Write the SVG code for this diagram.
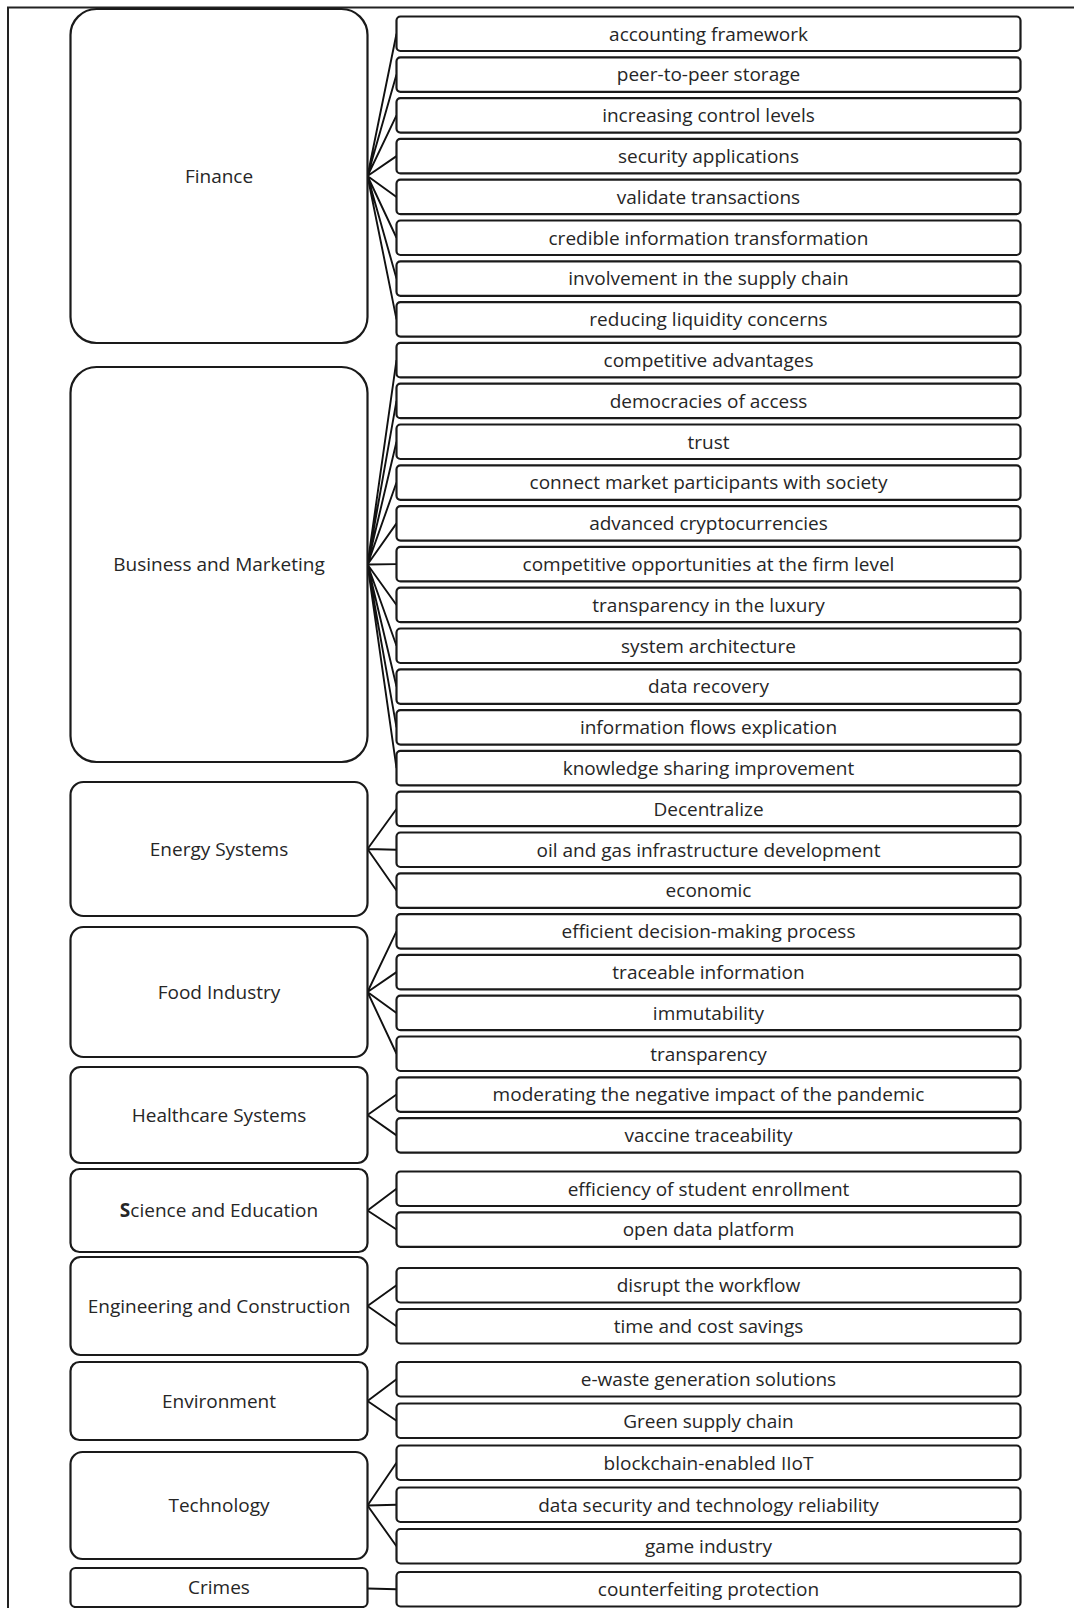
<svg xmlns="http://www.w3.org/2000/svg" width="1074" height="1608" viewBox="0 0 1074 1608">
<style>
.bg{fill:#ffffff}
.frame{fill:none;stroke:#222;stroke-width:2}
.cat{fill:#ffffff;stroke:#1a1a1a;stroke-width:2.2}
.item{fill:#ffffff;stroke:#1a1a1a;stroke-width:2.2}
.t{font-family:"Open Sans","Noto Sans","Liberation Sans",sans-serif;font-size:19px;fill:#262626;text-anchor:middle}
.c{fill:none;stroke:#111;stroke-width:1.9}
</style>
<rect class="bg" x="0" y="0" width="1074" height="1608"/>
<g id="frame">
<path class="frame" d="M8,1608 V7.5 H1074"/>
</g>
<g id="connectors">
<path class="c" d="M367.5,176 L396.5,33.75 M367.5,176 L396.5,74.55 M367.5,176 L396.5,115.35 M367.5,176 L396.5,156.15 M367.5,176 L396.5,196.95 M367.5,176 L396.5,237.75 M367.5,176 L396.5,278.55 M367.5,176 L396.5,319.35"/>
<path class="c" d="M367.5,564.5 L396.5,360.15 M367.5,564.5 L396.5,400.95 M367.5,564.5 L396.5,441.75 M367.5,564.5 L396.5,482.55 M367.5,564.5 L396.5,523.35 M367.5,564.5 L396.5,564.15 M367.5,564.5 L396.5,604.95 M367.5,564.5 L396.5,645.75 M367.5,564.5 L396.5,686.55 M367.5,564.5 L396.5,727.35 M367.5,564.5 L396.5,768.15"/>
<path class="c" d="M367.5,849 L396.5,808.95 M367.5,849 L396.5,849.75 M367.5,849 L396.5,890.55"/>
<path class="c" d="M367.5,992 L396.5,931.35 M367.5,992 L396.5,972.15 M367.5,992 L396.5,1012.95 M367.5,992 L396.5,1053.75"/>
<path class="c" d="M367.5,1115 L396.5,1094.55 M367.5,1115 L396.5,1135.35"/>
<path class="c" d="M367.5,1210.5 L396.5,1188.75 M367.5,1210.5 L396.5,1229.55"/>
<path class="c" d="M367.5,1306 L396.5,1285.25 M367.5,1306 L396.5,1326.25"/>
<path class="c" d="M367.5,1401 L396.5,1379.25 M367.5,1401 L396.5,1420.75"/>
<path class="c" d="M367.5,1505.5 L396.5,1462.75 M367.5,1505.5 L396.5,1504.75 M367.5,1505.5 L396.5,1546.25"/>
<path class="c" d="M367.5,1588.5 L396.5,1589.25"/>
</g>
<g id="cat-finance"><rect class="cat" x="70.5" y="9" width="297" height="334" rx="26"/><text class="t" x="219" y="182.8">Finance</text></g>
<g id="cat-business"><rect class="cat" x="70.5" y="367" width="297" height="395" rx="26"/><text class="t" x="219" y="571.3">Business and Marketing</text></g>
<g id="cat-energy"><rect class="cat" x="70.5" y="782" width="297" height="134" rx="13"/><text class="t" x="219" y="855.8">Energy Systems</text></g>
<g id="cat-food"><rect class="cat" x="70.5" y="927" width="297" height="130" rx="13"/><text class="t" x="219" y="998.8">Food Industry</text></g>
<g id="cat-healthcare"><rect class="cat" x="70.5" y="1067" width="297" height="96" rx="10"/><text class="t" x="219" y="1121.8">Healthcare Systems</text></g>
<g id="cat-science"><rect class="cat" x="70.5" y="1169" width="297" height="83" rx="9"/><text class="t" x="219" y="1217.3"><tspan font-weight="bold">S</tspan>cience and Education</text></g>
<g id="cat-engineering"><rect class="cat" x="70.5" y="1257" width="297" height="98" rx="10"/><text class="t" x="219" y="1312.8">Engineering and Construction</text></g>
<g id="cat-environment"><rect class="cat" x="70.5" y="1362" width="297" height="78" rx="9"/><text class="t" x="219" y="1407.8">Environment</text></g>
<g id="cat-technology"><rect class="cat" x="70.5" y="1452" width="297" height="107" rx="12"/><text class="t" x="219" y="1512.3">Technology</text></g>
<g id="cat-crimes"><rect class="cat" x="70.5" y="1568" width="297" height="39" rx="5"/><text class="t" x="219" y="1594.3">Crimes</text></g>
<g id="i01"><rect class="item" x="396.5" y="16.5" width="624" height="34.5" rx="4"/><text class="t" x="708.5" y="40.5">accounting framework</text></g>
<g id="i02"><rect class="item" x="396.5" y="57.3" width="624" height="34.5" rx="4"/><text class="t" x="708.5" y="81.3">peer-to-peer storage</text></g>
<g id="i03"><rect class="item" x="396.5" y="98.1" width="624" height="34.5" rx="4"/><text class="t" x="708.5" y="122.1">increasing control levels</text></g>
<g id="i04"><rect class="item" x="396.5" y="138.9" width="624" height="34.5" rx="4"/><text class="t" x="708.5" y="162.9">security applications</text></g>
<g id="i05"><rect class="item" x="396.5" y="179.7" width="624" height="34.5" rx="4"/><text class="t" x="708.5" y="203.7">validate transactions</text></g>
<g id="i06"><rect class="item" x="396.5" y="220.5" width="624" height="34.5" rx="4"/><text class="t" x="708.5" y="244.5">credible information transformation</text></g>
<g id="i07"><rect class="item" x="396.5" y="261.3" width="624" height="34.5" rx="4"/><text class="t" x="708.5" y="285.3">involvement in the supply chain</text></g>
<g id="i08"><rect class="item" x="396.5" y="302.1" width="624" height="34.5" rx="4"/><text class="t" x="708.5" y="326.1">reducing liquidity concerns</text></g>
<g id="i09"><rect class="item" x="396.5" y="342.9" width="624" height="34.5" rx="4"/><text class="t" x="708.5" y="366.9">competitive advantages</text></g>
<g id="i10"><rect class="item" x="396.5" y="383.7" width="624" height="34.5" rx="4"/><text class="t" x="708.5" y="407.7">democracies of access</text></g>
<g id="i11"><rect class="item" x="396.5" y="424.5" width="624" height="34.5" rx="4"/><text class="t" x="708.5" y="448.5">trust</text></g>
<g id="i12"><rect class="item" x="396.5" y="465.3" width="624" height="34.5" rx="4"/><text class="t" x="708.5" y="489.3">connect market participants with society</text></g>
<g id="i13"><rect class="item" x="396.5" y="506.1" width="624" height="34.5" rx="4"/><text class="t" x="708.5" y="530.1">advanced cryptocurrencies</text></g>
<g id="i14"><rect class="item" x="396.5" y="546.9" width="624" height="34.5" rx="4"/><text class="t" x="708.5" y="570.9">competitive opportunities at the firm level</text></g>
<g id="i15"><rect class="item" x="396.5" y="587.7" width="624" height="34.5" rx="4"/><text class="t" x="708.5" y="611.7">transparency in the luxury</text></g>
<g id="i16"><rect class="item" x="396.5" y="628.5" width="624" height="34.5" rx="4"/><text class="t" x="708.5" y="652.5">system architecture</text></g>
<g id="i17"><rect class="item" x="396.5" y="669.3" width="624" height="34.5" rx="4"/><text class="t" x="708.5" y="693.3">data recovery</text></g>
<g id="i18"><rect class="item" x="396.5" y="710.1" width="624" height="34.5" rx="4"/><text class="t" x="708.5" y="734.1">information flows explication</text></g>
<g id="i19"><rect class="item" x="396.5" y="750.9" width="624" height="34.5" rx="4"/><text class="t" x="708.5" y="774.9">knowledge sharing improvement</text></g>
<g id="i20"><rect class="item" x="396.5" y="791.7" width="624" height="34.5" rx="4"/><text class="t" x="708.5" y="815.7">Decentralize</text></g>
<g id="i21"><rect class="item" x="396.5" y="832.5" width="624" height="34.5" rx="4"/><text class="t" x="708.5" y="856.5">oil and gas infrastructure development</text></g>
<g id="i22"><rect class="item" x="396.5" y="873.3" width="624" height="34.5" rx="4"/><text class="t" x="708.5" y="897.3">economic</text></g>
<g id="i23"><rect class="item" x="396.5" y="914.1" width="624" height="34.5" rx="4"/><text class="t" x="708.5" y="938.1">efficient decision-making process</text></g>
<g id="i24"><rect class="item" x="396.5" y="954.9" width="624" height="34.5" rx="4"/><text class="t" x="708.5" y="978.9">traceable information</text></g>
<g id="i25"><rect class="item" x="396.5" y="995.7" width="624" height="34.5" rx="4"/><text class="t" x="708.5" y="1019.7">immutability</text></g>
<g id="i26"><rect class="item" x="396.5" y="1036.5" width="624" height="34.5" rx="4"/><text class="t" x="708.5" y="1060.5">transparency</text></g>
<g id="i27"><rect class="item" x="396.5" y="1077.3" width="624" height="34.5" rx="4"/><text class="t" x="708.5" y="1101.3">moderating the negative impact of the pandemic</text></g>
<g id="i28"><rect class="item" x="396.5" y="1118.1" width="624" height="34.5" rx="4"/><text class="t" x="708.5" y="1142.1">vaccine traceability</text></g>
<g id="i29"><rect class="item" x="396.5" y="1171.5" width="624" height="34.5" rx="4"/><text class="t" x="708.5" y="1195.5">efficiency of student enrollment</text></g>
<g id="i30"><rect class="item" x="396.5" y="1212.3" width="624" height="34.5" rx="4"/><text class="t" x="708.5" y="1236.3">open data platform</text></g>
<g id="i31"><rect class="item" x="396.5" y="1268" width="624" height="34.5" rx="4"/><text class="t" x="708.5" y="1292">disrupt the workflow</text></g>
<g id="i32"><rect class="item" x="396.5" y="1309" width="624" height="34.5" rx="4"/><text class="t" x="708.5" y="1333">time and cost savings</text></g>
<g id="i33"><rect class="item" x="396.5" y="1362" width="624" height="34.5" rx="4"/><text class="t" x="708.5" y="1386">e-waste generation solutions</text></g>
<g id="i34"><rect class="item" x="396.5" y="1403.5" width="624" height="34.5" rx="4"/><text class="t" x="708.5" y="1427.5">Green supply chain</text></g>
<g id="i35"><rect class="item" x="396.5" y="1445.5" width="624" height="34.5" rx="4"/><text class="t" x="708.5" y="1469.5">blockchain-enabled IIoT</text></g>
<g id="i36"><rect class="item" x="396.5" y="1487.5" width="624" height="34.5" rx="4"/><text class="t" x="708.5" y="1511.5">data security and technology reliability</text></g>
<g id="i37"><rect class="item" x="396.5" y="1529" width="624" height="34.5" rx="4"/><text class="t" x="708.5" y="1553">game industry</text></g>
<g id="i38"><rect class="item" x="396.5" y="1572" width="624" height="34.5" rx="4"/><text class="t" x="708.5" y="1596">counterfeiting protection</text></g>
</svg>
